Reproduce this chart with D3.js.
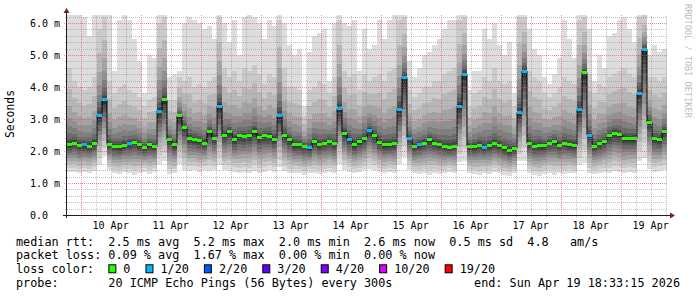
<!DOCTYPE html>
<html>
<head>
<meta charset="utf-8">
<script src="https://cdn.jsdelivr.net/npm/d3@7"></script>
<style>
  html, body { margin: 0; padding: 0; background: #fff; }
  svg { display: block; }
  text { font-family: "DejaVu Sans Mono", monospace; white-space: pre; }
</style>
</head>
<body>
<svg id="chart" width="697" height="297"></svg>
<script>
// time frame: 10 days ending at the "end:" stamp, one column = 2 hours
const END_TIME = Date.UTC(2026, 3, 19, 18, 33, 15);
const SPAN = 10 * 86400 * 1000;
const STEP = 7200 * 1000;

// median rtt per column (ms)
const median = [
  2.2, 2.25, 2.18, 2.19, 2.15, 2.23, 3.12, 3.6, 2.2, 2.15, 2.13, 2.18, 2.22, 2.28, 2.2,
  2.1, 2.2, 2.14, 3.25, 3.6, 2.35, 2.2, 3.1, 2.75, 2.4, 2.37, 2.32, 2.25, 2.6, 2.4,
  3.4, 2.48, 2.6, 2.35, 2.48, 2.44, 2.47, 2.6, 2.42, 2.48, 2.45, 2.36, 3.1, 2.5, 2.35,
  2.2, 2.2, 2.15, 2.1, 2.3, 2.2, 2.25, 2.3, 2.22, 3.33, 2.55, 2.35, 2.2, 2.3, 2.38,
  2.65, 2.5, 2.28, 2.2, 2.2, 2.22, 3.3, 4.3, 2.4, 2.15, 2.2, 2.25, 2.35, 2.25, 2.2,
  2.15, 2.12, 2.15, 3.4, 4.4, 2.15, 2.13, 2.18, 2.12, 2.17, 2.22, 2.17, 2.1, 2.03, 2.08,
  3.2, 4.5, 2.23, 2.15, 2.18, 2.17, 2.25, 2.3, 2.18, 2.25, 2.2, 2.17, 3.3, 4.45, 2.5,
  2.15, 2.22, 2.3, 2.48, 2.55, 2.52, 2.4, 2.38, 2.4, 3.8, 5.18, 2.9, 2.38, 2.35, 2.6,
];
// lost pings out of 20 per column
const loss = [
  0, 0, 0, 1, 0, 0, 1, 1, 0, 0, 0, 0, 1, 0, 0, 0, 0, 0, 1, 0, 0, 0, 0, 0, 0, 0, 0, 0, 0, 0,
  1, 0, 0, 0, 0, 0, 0, 0, 0, 0, 0, 0, 1, 0, 0, 0, 0, 0, 1, 0, 0, 0, 0, 0, 1, 0, 1, 0, 0, 0,
  1, 0, 0, 0, 0, 0, 1, 1, 1, 0, 1, 0, 0, 0, 0, 0, 0, 0, 1, 1, 0, 0, 0, 1, 0, 0, 0, 0, 0, 0,
  1, 1, 0, 0, 0, 0, 0, 0, 0, 0, 0, 0, 1, 0, 1, 0, 0, 0, 0, 0, 0, 0, 0, 0, 1, 1, 0, 0, 0, 0,
];
// fastest ping per column (ms)
const pingMin = [
  1.35, 1.33, 1.3, 1.35, 1.32, 1.38, 1.55, 1.85, 1.4, 1.3, 1.28, 1.33, 1.3, 1.25, 1.3,
  1.35, 1.28, 1.35, 1.6, 1.68, 1.28, 1.3, 1.6, 1.42, 1.38, 1.4, 1.35, 1.42, 1.38, 1.4,
  1.55, 1.4, 1.38, 1.35, 1.3, 1.35, 1.32, 1.38, 1.3, 1.35, 1.4, 1.35, 1.5, 1.38, 1.3,
  1.32, 1.3, 1.25, 1.32, 1.3, 1.28, 1.3, 1.35, 1.3, 1.6, 1.42, 1.35, 1.3, 1.35, 1.4,
  1.45, 1.4, 1.35, 1.3, 1.35, 1.3, 1.6, 1.8, 1.42, 1.3, 1.28, 1.3, 1.25, 1.32, 1.28,
  1.3, 1.35, 1.3, 1.65, 1.7, 1.3, 1.28, 1.25, 1.3, 1.28, 1.35, 1.3, 1.25, 1.22, 1.3,
  1.7, 1.7, 1.3, 1.25, 1.22, 1.28, 1.3, 1.25, 1.3, 1.28, 1.32, 1.3, 1.55, 1.62, 1.3,
  1.28, 1.3, 1.35, 1.3, 1.38, 1.35, 1.3, 1.35, 1.32, 1.7, 1.78, 1.45, 1.35, 1.38, 1.4,
];
// second slowest ping per column (ms)
const ping19 = [
  4.6, 4.2, 4.0, 3.9, 4.0, 4.3, 5.8, 6.2, 4.2, 3.8, 4.0, 4.1, 3.9, 3.8, 3.7,
  3.4, 3.6, 3.7, 6.0, 6.2, 3.6, 3.6, 4.3, 4.2, 4.3, 4.0, 4.1, 4.0, 4.2, 4.3,
  6.2, 4.6, 4.3, 4.5, 4.2, 4.6, 4.5, 4.7, 4.4, 4.1, 4.4, 4.3, 6.1, 4.6, 4.0,
  4.0, 3.9, 3.1, 3.9, 4.0, 4.2, 4.1, 3.8, 4.3, 6.1, 4.5, 4.3, 4.4, 3.9, 4.4,
  4.2, 4.3, 4.4, 4.2, 4.5, 4.6, 6.1, 6.2, 3.9, 3.7, 3.8, 4.0, 4.0, 4.2, 4.2,
  4.4, 4.5, 4.6, 6.1, 6.2, 3.4, 3.8, 3.9, 4.3, 4.2, 4.6, 4.2, 4.1, 4.2, 3.4,
  6.2, 6.2, 4.5, 4.3, 4.2, 3.8, 3.7, 3.8, 4.0, 4.3, 4.2, 4.1, 6.1, 6.2, 4.4,
  3.8, 4.1, 4.0, 4.3, 4.4, 4.5, 4.6, 4.4, 4.3, 6.2, 6.25, 4.3, 4.3, 4.2, 4.3,
];
// slowest ping per column (ms)
const pingMax = [
  6.3, 6.3, 6.3, 6.2, 5.6, 6.3, 6.3, 6.3, 6.3, 4.5, 6.1, 6.3, 6.1, 5.5, 4.8,
  3.8, 5.0, 4.9, 6.3, 6.3, 4.3, 4.4, 4.5, 6.0, 6.2, 6.1, 6.0, 5.8, 5.9, 5.5,
  6.3, 6.0, 5.4, 6.1, 5.0, 6.2, 6.3, 6.2, 6.0, 5.5, 6.1, 5.9, 6.3, 6.0, 5.3,
  5.0, 5.2, 3.4, 5.1, 5.6, 5.7, 5.8, 4.2, 6.0, 6.3, 6.0, 5.9, 6.1, 4.5, 5.8,
  5.2, 5.3, 6.1, 5.5, 6.1, 6.3, 6.3, 6.3, 4.8, 4.3, 4.6, 5.0, 5.1, 5.3, 5.5,
  5.8, 6.1, 6.1, 6.3, 6.3, 3.9, 4.5, 4.5, 5.8, 5.5, 6.0, 5.3, 5.0, 5.4, 3.8,
  6.3, 6.3, 5.8, 5.2, 5.0, 4.3, 4.1, 4.4, 4.9, 6.1, 5.5, 4.9, 6.3, 6.3, 5.8,
  4.2, 5.0, 4.6, 5.6, 5.7, 6.1, 6.2, 5.8, 5.4, 6.3, 6.3, 5.0, 5.3, 5.1, 5.2,
];

const lossLabels = ["0", "1/20", "2/20", "3/20", "4/20", "10/20", "19/20"];
const lossColors = ["#26ff00", "#00b8ff", "#0059ff", "#5e00ff", "#7e00ff", "#dd00ff", "#ff0000"];
const lossLevels = [0, 1, 2, 3, 4, 10, 19];

const legendLines = [
  "median rtt:  2.5 ms avg  5.2 ms max  2.0 ms min  2.6 ms now  0.5 ms sd  4.8   am/s",
  "packet loss: 0.09 % avg  1.67 % max  0.00 % min  0.00 % now",
];
const probeText = "probe:       20 ICMP Echo Pings (56 Bytes) every 300s";
const endText = "end: Sun Apr 19 18:33:15 2026";

(function () {
  const svg = d3.select("#chart");
  const START = END_TIME - SPAN;

  const x = d3.scaleUtc().domain([new Date(START), new Date(END_TIME)]).range([67, 667]);
  const y = d3.scaleLinear().domain([0, 6.25]).range([215, 15]);
  const yMax = 6.25;

  const cols = median.map((m, c) => ({
    c,
    t0: new Date(START + c * STEP),
    t1: new Date(START + (c + 1) * STEP),
    med: m,
    loss: loss[c],
    min: pingMin[c],
    p19: ping19[c],
    max: pingMax[c],
  }));

  // smoke: 10 ping pairs, outer pair lightest (smokeping style grey ramp)
  const LOW_FRAC = [0, 0.14, 0.27, 0.39, 0.5, 0.6, 0.69, 0.78, 0.86, 0.93];
  const UP_FRAC = [1, 1, 0.72, 0.5, 0.35, 0.24, 0.15, 0.09, 0.05, 0.02];
  const smoke = svg.append("g").attr("shape-rendering", "crispEdges");
  d3.range(10).forEach((i) => {
    const g = 221 - 19 * i;
    smoke.append("g")
      .selectAll("rect")
      .data(cols)
      .join("rect")
      .attr("fill", d3.rgb(g, g, g))
      .attr("x", (d) => x(d.t0))
      .attr("width", (d) => x(d.t1) - x(d.t0))
      .attr("y", (d) => {
        let hi;
        if (i === 0) hi = d.max;
        else if (i === 1) hi = d.p19;
        else hi = d.med + (d.p19 - d.med) * UP_FRAC[i];
        return y(Math.min(hi, yMax));
      })
      .attr("height", function (d) {
        const lo = d.min + (d.med - d.min) * LOW_FRAC[i];
        return Math.max(0, y(lo) - +this.getAttribute("y"));
      });
  });

  // black median step line
  const linePts = cols.map((d) => [x(d.t0), y(d.med)]);
  linePts.push([x(cols[cols.length - 1].t1), y(cols[cols.length - 1].med)]);
  svg.append("path")
    .attr("d", d3.line().curve(d3.curveStepAfter)(linePts))
    .attr("fill", "none")
    .attr("stroke", "#000")
    .attr("stroke-width", 1);

  // loss coloured median marks
  svg.append("g")
    .attr("shape-rendering", "crispEdges")
    .selectAll("rect")
    .data(cols)
    .join("rect")
    .attr("x", (d) => x(d.t0))
    .attr("width", (d) => x(d.t1) - x(d.t0))
    .attr("y", (d) => y(d.med) - 1.5)
    .attr("height", 3)
    .attr("fill", (d) => lossColors[lossLevels.indexOf(d.loss)]);

  // grid on top, rrdtool colours
  const grid = svg.append("g").attr("shape-rendering", "crispEdges").attr("stroke-dasharray", "1,1");
  const minorY = d3.range(1, 32).map((k) => +(k * 0.2).toFixed(1)).filter((v) => v % 1 !== 0);
  const majorY = d3.range(1, 7);
  const days = d3.utcDay.range(new Date(START), new Date(END_TIME));
  const minorX = d3.utcHour.every(6).range(new Date(START), new Date(END_TIME))
    .filter((t) => t.getUTCHours() !== 0);

  grid.selectAll(".hmin").data(minorY).join("line")
    .attr("x1", 65).attr("x2", 667)
    .attr("y1", (d) => Math.round(y(d)) + 0.5).attr("y2", (d) => Math.round(y(d)) + 0.5)
    .attr("stroke", "rgba(143,143,143,0.55)");
  grid.selectAll(".vmin").data(minorX).join("line")
    .attr("x1", (d) => Math.round(x(d)) + 0.5).attr("x2", (d) => Math.round(x(d)) + 0.5)
    .attr("y1", 217).attr("y2", 15)
    .attr("stroke", "rgba(143,143,143,0.55)");
  grid.selectAll(".hmaj").data(majorY).join("line")
    .attr("x1", 64).attr("x2", 667)
    .attr("y1", (d) => Math.round(y(d)) + 0.5).attr("y2", (d) => Math.round(y(d)) + 0.5)
    .attr("stroke", "rgba(222,79,79,0.6)");
  grid.selectAll(".vmaj").data(days).join("line")
    .attr("x1", (d) => Math.round(x(d)) + 0.5).attr("x2", (d) => Math.round(x(d)) + 0.5)
    .attr("y1", 218).attr("y2", 15)
    .attr("stroke", "rgba(222,79,79,0.6)");

  // axes + arrows
  const axis = svg.append("g").attr("shape-rendering", "crispEdges").attr("stroke", "#1f1f1f");
  axis.append("line").attr("x1", 63).attr("x2", 671).attr("y1", 215.5).attr("y2", 215.5);
  axis.append("line").attr("x1", 66.5).attr("x2", 66.5).attr("y1", 218).attr("y2", 12);
  svg.append("path").attr("d", "M670,212.5L675,215.5L670,218.5Z").attr("fill", "#801f1f");
  svg.append("path").attr("d", "M63.5,13L66.5,8L69.5,13Z").attr("fill", "#801f1f");

  // y tick labels
  svg.append("g").selectAll("text").data(d3.range(0, 7)).join("text")
    .attr("x", 30).attr("y", (d) => y(d)).attr("dy", "0.36em")
    .attr("font-size", 10).attr("fill", "#000")
    .text((d) => (d === 0 ? "0.0" : d3.format(".1f")(d) + " m"));

  // x tick labels at noon
  svg.append("g").selectAll("text").data(days).join("text")
    .attr("x", (d) => x(d3.utcHour.offset(d, 12)))
    .attr("y", 228.5)
    .attr("text-anchor", "middle")
    .attr("font-size", 10).attr("fill", "#000")
    .text((d) => d3.utcFormat("%d %b")(d));

  svg.append("text")
    .attr("transform", "translate(14,114) rotate(-90)")
    .attr("text-anchor", "middle")
    .attr("font-size", 11.4).attr("fill", "#000")
    .text("Seconds");

  svg.append("text")
    .attr("transform", "translate(684.5,4) rotate(90)")
    .attr("font-size", 8.6).attr("fill", "rgba(0,0,0,0.3)")
    .text("RRDTOOL / TOBI OETIKER");

  // legend
  const FS = 11.8;
  const rowY = [245.5, 259.4, 273.3, 287.1];
  legendLines.forEach((s, k) => {
    svg.append("text").attr("x", 16).attr("y", rowY[k]).attr("font-size", FS).text(s);
  });
  const lossRow = svg.append("g");
  const head = lossRow.append("text").attr("x", 16).attr("y", rowY[2]).attr("font-size", FS).text("loss color:  ");
  let bx = 16 + head.node().getComputedTextLength();
  lossLabels.forEach((lab, k) => {
    lossRow.append("rect")
      .attr("x", bx + 0.5).attr("y", rowY[2] - 8.5).attr("width", 7).attr("height", 8)
      .attr("fill", lossColors[k]).attr("stroke", "#000").attr("stroke-width", 1);
    const t = lossRow.append("text").attr("x", bx + 15).attr("y", rowY[2]).attr("font-size", FS).text(lab);
    bx = bx + 15 + t.node().getComputedTextLength() + 15;
  });
  svg.append("text").attr("x", 16).attr("y", rowY[3]).attr("font-size", FS).text(probeText);
  svg.append("text").attr("x", 680).attr("y", rowY[3]).attr("text-anchor", "end").attr("font-size", FS).text(endText);
})();
</script>
</body>
</html>
